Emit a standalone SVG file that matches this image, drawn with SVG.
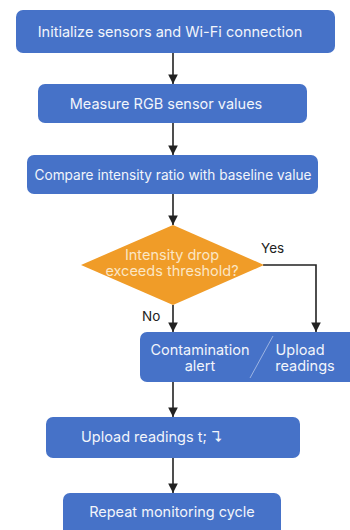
<svg xmlns="http://www.w3.org/2000/svg" width="350" height="530" viewBox="0 0 350 530">
<style>
.box{fill:#4672C8;}
.t{font-family:Inter,"Noto Sans","Liberation Sans",sans-serif;font-size:14.5px;fill:#f2f5fb;text-anchor:middle;}
.lbl{font-family:Inter,"Noto Sans","Liberation Sans",sans-serif;font-size:13.5px;fill:#222;}
.c{stroke:#222;stroke-width:1.6;fill:none;marker-end:url(#ah);}
</style>
<defs>
<marker id="ah" viewBox="0 0 10 10" refX="10" refY="5" markerWidth="6.5" markerHeight="6" orient="auto" markerUnits="strokeWidth">
<path d="M0,0 L10,5 L0,10 z" fill="#222"/>
</marker>
</defs>
<rect width="350" height="530" fill="#ffffff"/>
<g id="connectors">
<line class="c" x1="173" y1="53" x2="173" y2="84"/>
<line class="c" x1="173" y1="123" x2="173" y2="155"/>
<line class="c" x1="173" y1="194" x2="173" y2="225"/>
<line class="c" x1="173" y1="305" x2="173" y2="332"/>
<polyline class="c" points="263,265 316,265 316,332"/>
<line class="c" x1="173" y1="382" x2="173" y2="417"/>
<line class="c" x1="173" y1="458" x2="173" y2="493"/>
<text class="lbl" x="261" y="253">Yes</text>
<text class="lbl" x="142" y="321">No</text>
</g>
<g id="n1">
<rect class="box" x="16" y="10" width="319" height="43" rx="7"/>
<text class="t" x="170" y="37">Initialize sensors and Wi-Fi connection</text>
</g>
<g id="n2">
<rect class="box" x="38" y="84" width="269" height="39" rx="7"/>
<text class="t" x="166" y="109">Measure RGB sensor values</text>
</g>
<g id="n3">
<rect class="box" x="27" y="155" width="291" height="39" rx="7"/>
<text class="t" x="173" y="180" style="font-size:14px" textLength="277" lengthAdjust="spacingAndGlyphs">Compare intensity ratio with baseline value</text>
</g>
<g id="n4">
<polygon points="173,225 264,265 173,305 81,265" fill="#F09C28"/>
<text class="t" x="172" y="260" style="fill:#fbe6c4">Intensity drop</text>
<text class="t" x="172" y="276" style="fill:#fbe6c4">exceeds threshold?</text>
</g>
<g id="n5">
<rect class="box" x="140" y="332" width="220" height="50" rx="7"/>
<line x1="273" y1="336" x2="250" y2="378" stroke="#9db4e2" stroke-width="1"/>
<text class="t" x="200" y="355">Contamination</text>
<text class="t" x="200" y="371">alert</text>
<text class="t" x="300" y="355">Upload</text>
<text class="t" x="305" y="371">readings</text>
</g>
<g id="n6">
<rect class="box" x="46" y="417" width="254" height="41" rx="7"/>
<text class="t" x="81" y="442" style="text-anchor:start">Upload readings t; ↴</text>
</g>
<g id="n7">
<rect class="box" x="63" y="493" width="218" height="45" rx="7"/>
<text class="t" x="172" y="517">Repeat monitoring cycle</text>
</g>
</svg>
